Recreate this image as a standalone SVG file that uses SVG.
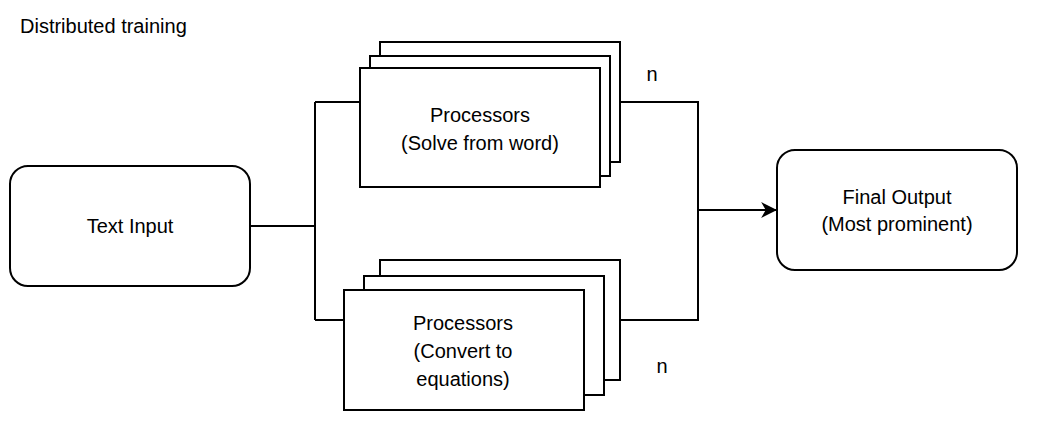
<svg xmlns="http://www.w3.org/2000/svg" width="1055" height="436" viewBox="0 0 1055 436">
<style>
.b{fill:#fff;stroke:#000;stroke-width:2}
.t{font-family:"Liberation Sans",Arial,sans-serif;font-size:20px;fill:#000;text-anchor:middle}
.c{fill:none;stroke:#000;stroke-width:2}
</style>
<defs><marker id="a" viewBox="0 0 14 14" refX="13" refY="7" markerWidth="16" markerHeight="16" markerUnits="userSpaceOnUse" orient="auto"><path d="M0,0L14,7L0,14L4,7z" fill="#000"/></marker></defs>
<rect width="1055" height="436" fill="#fff"/>
<text x="20" y="33" class="t" style="text-anchor:start">Distributed training</text>
<g id="connectors">
<path class="c" d="M250,226H315M315,102V320M315,102H360M315,320H344"/>
<path class="c" d="M620,102H698V320H620M698,210H776" marker-end="url(#a)"/>
</g>
<g id="text-input"><rect class="b" x="10" y="166" width="240" height="120" rx="18"/><text class="t" x="130" y="233">Text Input</text></g>
<g id="proc-top">
<rect class="b" x="380" y="42" width="240" height="120"/>
<rect class="b" x="370" y="56" width="240" height="120"/>
<rect class="b" x="360" y="68" width="240" height="119"/>
<text class="t" x="480" y="122">Processors</text><text class="t" x="480" y="150">(Solve from word)</text>
</g>
<g id="proc-bottom">
<rect class="b" x="380" y="260" width="240" height="120"/>
<rect class="b" x="364" y="276" width="240" height="119"/>
<rect class="b" x="344" y="290" width="240" height="120"/>
<text class="t" x="463" y="330">Processors</text><text class="t" x="463" y="358">(Convert to</text><text class="t" x="463" y="386">equations)</text>
</g>
<g id="final-output"><rect class="b" x="777" y="150" width="240" height="120" rx="18"/><text class="t" x="897" y="204">Final Output</text><text class="t" x="897" y="231">(Most prominent)</text></g>
<text class="t" x="652" y="81">n</text>
<text class="t" x="662" y="373">n</text>
</svg>
